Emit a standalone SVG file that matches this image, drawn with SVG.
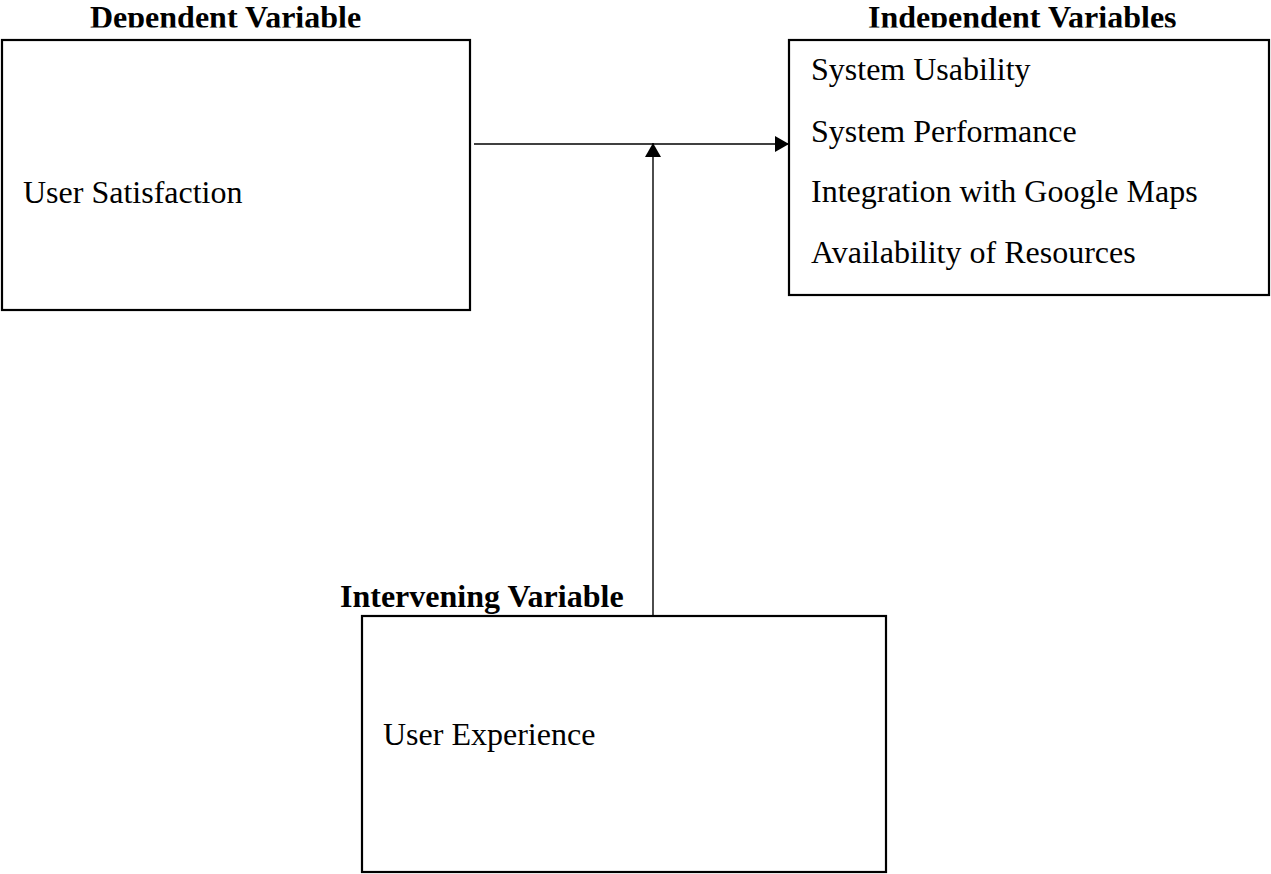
<svg xmlns="http://www.w3.org/2000/svg" width="1271" height="874" viewBox="0 0 1271 874">
  <style>
    .box { fill: #ffffff; stroke: #000000; stroke-width: 2.2; }
    .title { font-family: "Liberation Serif", "Times New Roman", serif; font-size: 32px; font-weight: bold; fill: #000000; }
    .item { font-family: "Liberation Serif", "Times New Roman", serif; font-size: 32px; fill: #000000; }
    .link { stroke: #000000; stroke-width: 1.4; fill: none; }
  </style>
  <defs>
    <marker id="arrow" viewBox="0 0 14 16" refX="14" refY="8" markerWidth="14" markerHeight="16" markerUnits="userSpaceOnUse" orient="auto">
      <path d="M0,0 L14,8 L0,16 Z" fill="#000000"/>
    </marker>
    <!-- top headings are cut off just below their baseline -->
    <clipPath id="headClip">
      <rect x="0" y="0" width="1271" height="27.5"/>
    </clipPath>
  </defs>
  <rect width="1271" height="874" fill="#ffffff"/>

  <g id="dependent">
    <text class="title" x="90" y="28" clip-path="url(#headClip)">Dependent Variable</text>
    <rect class="box" x="2" y="40" width="468" height="270"/>
    <text class="item" x="23" y="203">User Satisfaction</text>
  </g>

  <g id="independent">
    <text class="title" x="868" y="28" clip-path="url(#headClip)">Independent Variables</text>
    <rect class="box" x="789" y="40" width="480" height="255"/>
    <text class="item" x="811" y="80">System Usability</text>
    <text class="item" x="811" y="142">System Performance</text>
    <text class="item" x="811" y="202">Integration with Google Maps</text>
    <text class="item" x="811" y="263">Availability of Resources</text>
  </g>

  <g id="intervening">
    <text class="title" x="340" y="607">Intervening Variable</text>
    <rect class="box" x="362" y="616" width="524" height="256"/>
    <text class="item" x="383" y="745">User Experience</text>
  </g>

  <g id="connectors">
    <line class="link" x1="474" y1="144" x2="789" y2="144" marker-end="url(#arrow)"/>
    <line class="link" x1="653" y1="616" x2="653" y2="143" marker-end="url(#arrow)"/>
  </g>
</svg>
